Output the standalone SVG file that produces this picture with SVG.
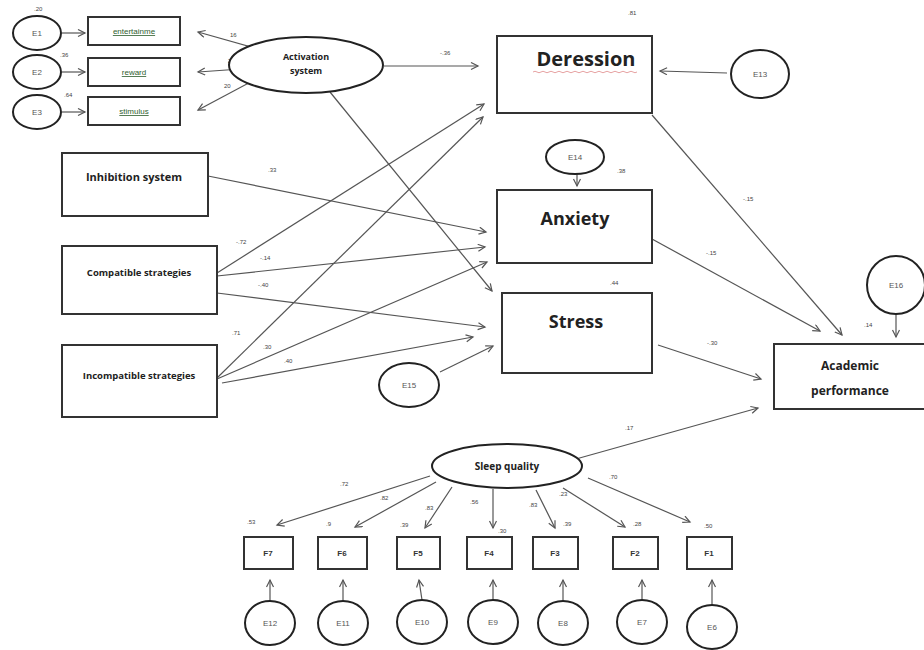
<svg xmlns="http://www.w3.org/2000/svg" width="924" height="650" viewBox="0 0 924 650">
<style>
.box{fill:#fff;stroke:#333;stroke-width:2}
.ell{fill:#fff;stroke:#222;stroke-width:2}
.ln{fill:none;stroke:#555;stroke-width:1.2;marker-end:url(#ah)}
.lb{font-family:"Liberation Sans",Arial,sans-serif;font-size:6px;fill:#444}
.et{font-family:"Liberation Sans",Arial,sans-serif;font-size:8px;fill:#555;text-anchor:middle}
.gt{font-family:"Liberation Sans",Arial,sans-serif;font-size:8px;fill:#2e5e2e;text-anchor:middle;text-decoration:underline}
.bt{font-family:"Open Sans","Liberation Sans",sans-serif;font-weight:bold;fill:#222;text-anchor:middle}
.ft{font-family:"Liberation Sans",Arial,sans-serif;font-size:8px;font-weight:bold;fill:#333;text-anchor:middle}
</style>
<defs>
<marker id="ah" markerWidth="10" markerHeight="10" refX="8" refY="4" orient="auto" markerUnits="userSpaceOnUse">
<path d="M1,0.5 L8,4 L1,7.5" fill="none" stroke="#555" stroke-width="1.2"/>
</marker>
</defs>
<rect width="924" height="650" fill="#fff"/>

<g id="connectors">
<path class="ln" d="M62,33 L85,33"/>
<path class="ln" d="M62,72 L85,72"/>
<path class="ln" d="M62,112 L85,112"/>
<path class="ln" d="M262,50 L198,32"/>
<path class="ln" d="M255,68 L198,72"/>
<path class="ln" d="M258,78 L198,110"/>
<path class="ln" d="M384,66 L478,66"/>
<path class="ln" d="M330,92 L492,291"/>
<path class="ln" d="M727,73 L660,71"/>
<path class="ln" d="M577,174 L577,186"/>
<path class="ln" d="M208,176 L486,232"/>
<path class="ln" d="M217,273 L484,104"/>
<path class="ln" d="M217,276 L485,247"/>
<path class="ln" d="M217,293 L485,327"/>
<path class="ln" d="M217,378 L483,117"/>
<path class="ln" d="M217,379 L487,262"/>
<path class="ln" d="M222,383 L473,337"/>
<path class="ln" d="M440,372 L493,346"/>
<path class="ln" d="M652,115 L842,335"/>
<path class="ln" d="M652,239 L820,331"/>
<path class="ln" d="M658,345 L761,379"/>
<path class="ln" d="M576,459 L758,408"/>
<path class="ln" d="M896,314 L896,337"/>
<path class="ln" d="M430,476 L277,525"/>
<path class="ln" d="M436,482 L355,527"/>
<path class="ln" d="M452,487 L425,528"/>
<path class="ln" d="M493,489 L493,528"/>
<path class="ln" d="M536,490 L555,528"/>
<path class="ln" d="M563,488 L625,527"/>
<path class="ln" d="M588,478 L690,522"/>
<path class="ln" d="M270,601 L270,580"/>
<path class="ln" d="M343,601 L343,580"/>
<path class="ln" d="M422,600 L419,580"/>
<path class="ln" d="M493,600 L493,580"/>
<path class="ln" d="M563,601 L563,580"/>
<path class="ln" d="M642,600 L642,580"/>
<path class="ln" d="M712,605 L712,580"/>
</g>

<g id="labels">
<text class="lb" x="34" y="11">.20</text>
<text class="lb" x="60" y="57">.36</text>
<text class="lb" x="64" y="97">.64</text>
<text class="lb" x="230" y="37">16</text>
<text class="lb" x="228" y="63">23</text>
<text class="lb" x="224" y="88">20</text>
<text class="lb" x="440" y="55">-.36</text>
<text class="lb" x="628" y="15">.81</text>
<text class="lb" x="268" y="172">.33</text>
<text class="lb" x="236" y="244">-.72</text>
<text class="lb" x="260" y="260">-.14</text>
<text class="lb" x="258" y="287">-.40</text>
<text class="lb" x="232" y="335">.71</text>
<text class="lb" x="263" y="349">.30</text>
<text class="lb" x="284" y="363">.40</text>
<text class="lb" x="617" y="173">.38</text>
<text class="lb" x="610" y="285">.44</text>
<text class="lb" x="743" y="201">-.15</text>
<text class="lb" x="706" y="255">-.15</text>
<text class="lb" x="707" y="345">-.30</text>
<text class="lb" x="864" y="327">.14</text>
<text class="lb" x="625" y="430">.17</text>
<text class="lb" x="340" y="486">.72</text>
<text class="lb" x="380" y="500">.82</text>
<text class="lb" x="425" y="510">.83</text>
<text class="lb" x="470" y="504">.56</text>
<text class="lb" x="529" y="507">.83</text>
<text class="lb" x="559" y="496">.23</text>
<text class="lb" x="609" y="479">.70</text>
<text class="lb" x="247" y="524">.53</text>
<text class="lb" x="326" y="526">.9</text>
<text class="lb" x="400" y="527">.39</text>
<text class="lb" x="498" y="533">.30</text>
<text class="lb" x="563" y="526">.39</text>
<text class="lb" x="633" y="526">.28</text>
<text class="lb" x="704" y="528">.50</text>
</g>

<g id="E1"><ellipse class="ell" cx="37" cy="33" rx="24" ry="17"/><text class="et" x="37" y="36">E1</text></g>
<g id="E2"><ellipse class="ell" cx="37" cy="72" rx="24" ry="17"/><text class="et" x="37" y="75">E2</text></g>
<g id="E3"><ellipse class="ell" cx="37" cy="112" rx="24" ry="17"/><text class="et" x="37" y="115">E3</text></g>
<g id="entertainment"><rect class="box" x="88" y="17" width="92" height="28"/><text class="gt" x="134" y="34">entertainme</text></g>
<g id="reward"><rect class="box" x="88" y="58" width="92" height="28"/><text class="gt" x="134" y="75">reward</text></g>
<g id="stimulus"><rect class="box" x="88" y="97" width="92" height="28"/><text class="gt" x="134" y="114">stimulus</text></g>

<g id="activation"><ellipse class="ell" cx="306" cy="65" rx="77" ry="28"/><text class="bt" font-size="9" x="306" y="60">Activation</text><text class="bt" font-size="9" x="306" y="74">system</text></g>

<g id="deression"><rect class="box" x="497" y="36" width="155" height="77"/><text class="bt" font-size="20" x="586" y="66">Deression</text><path d="M533,72 q2,-1.5 4,0 t4,0 t4,0 t4,0 t4,0 t4,0 t4,0 t4,0 t4,0 t4,0 t4,0 t4,0 t4,0 t4,0 t4,0 t4,0 t4,0 t4,0 t4,0 t4,0 t4,0 t4,0 t4,0 t4,0 t4,0 t4,0" fill="none" stroke="#e08a8a" stroke-width="0.8"/></g>
<g id="E13"><ellipse class="ell" cx="760" cy="74" rx="29" ry="24"/><text class="et" x="760" y="77">E13</text></g>

<g id="E14"><ellipse class="ell" cx="575" cy="157" rx="29" ry="17"/><text class="et" x="575" y="160">E14</text></g>
<g id="anxiety"><rect class="box" x="497" y="190" width="155" height="73"/><text class="bt" font-size="18" x="575" y="225">Anxiety</text></g>
<g id="stress"><rect class="box" x="502" y="293" width="150" height="80"/><text class="bt" font-size="18" x="576" y="328">Stress</text></g>
<g id="E15"><ellipse class="ell" cx="409" cy="385" rx="30" ry="22"/><text class="et" x="409" y="388">E15</text></g>

<g id="inhibition"><rect class="box" x="62" y="153" width="146" height="63"/><text class="bt" font-size="11" x="134" y="181">Inhibition system</text></g>
<g id="compatible"><rect class="box" x="62" y="246" width="155" height="68"/><text class="bt" font-size="9.5" x="139" y="276">Compatible strategies</text></g>
<g id="incompatible"><rect class="box" x="62" y="345" width="155" height="72"/><text class="bt" font-size="9.5" x="139" y="379">Incompatible strategies</text></g>

<g id="academic"><rect class="box" x="774" y="344" width="152" height="65"/><text class="bt" font-size="12" x="850" y="370">Academic</text><text class="bt" font-size="12" x="850" y="395">performance</text></g>
<g id="E16"><ellipse class="ell" cx="896" cy="285" rx="29" ry="29"/><text class="et" x="896" y="288">E16</text></g>

<g id="sleep"><ellipse class="ell" cx="507" cy="466" rx="75" ry="22"/><text class="bt" font-size="10" x="507" y="470">Sleep quality</text></g>

<g id="F7"><rect class="box" x="244" y="537" width="49" height="32"/><text class="ft" x="268" y="556">F7</text></g>
<g id="F6"><rect class="box" x="318" y="537" width="49" height="32"/><text class="ft" x="342" y="556">F6</text></g>
<g id="F5"><rect class="box" x="397" y="537" width="43" height="32"/><text class="ft" x="418" y="556">F5</text></g>
<g id="F4"><rect class="box" x="467" y="537" width="45" height="32"/><text class="ft" x="489" y="556">F4</text></g>
<g id="F3"><rect class="box" x="533" y="537" width="45" height="32"/><text class="ft" x="555" y="556">F3</text></g>
<g id="F2"><rect class="box" x="613" y="537" width="45" height="32"/><text class="ft" x="635" y="556">F2</text></g>
<g id="F1"><rect class="box" x="687" y="537" width="45" height="32"/><text class="ft" x="709" y="556">F1</text></g>

<g id="E12"><ellipse class="ell" cx="270" cy="623" rx="25" ry="22"/><text class="et" font-size="7" x="270" y="626">E12</text></g>
<g id="E11"><ellipse class="ell" cx="343" cy="623" rx="25" ry="22"/><text class="et" font-size="7" x="343" y="626">E11</text></g>
<g id="E10"><ellipse class="ell" cx="422" cy="622" rx="25" ry="22"/><text class="et" font-size="7" x="422" y="625">E10</text></g>
<g id="E9"><ellipse class="ell" cx="493" cy="622" rx="25" ry="22"/><text class="et" x="493" y="625">E9</text></g>
<g id="E8"><ellipse class="ell" cx="563" cy="623" rx="25" ry="22"/><text class="et" x="563" y="626">E8</text></g>
<g id="E7"><ellipse class="ell" cx="642" cy="622" rx="25" ry="22"/><text class="et" x="642" y="625">E7</text></g>
<g id="E6"><ellipse class="ell" cx="712" cy="627" rx="25" ry="22"/><text class="et" x="712" y="630">E6</text></g>
</svg>
